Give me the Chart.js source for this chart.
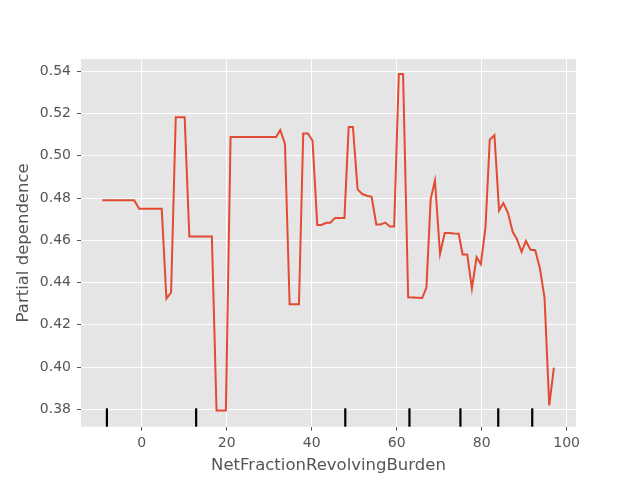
<!DOCTYPE html>
<html>
<head>
<meta charset="utf-8">
<script src="https://cdn.jsdelivr.net/npm/chart.js@4"></script>
<style>
  body { margin: 0; background: #fff; }
  #wrap { width: 640px; height: 480px; }
</style>
</head>
<body>
<div id="wrap"><canvas id="pdp" width="640" height="480"></canvas></div>
<script>
// partial dependence curve
var xs = [-9.3, -1.8, -0.6, 4.7, 5.8, 6.9, 8.0, 10.1, 11.2, 16.5,
  17.6, 19.8, 20.9, 31.6, 32.6, 33.7, 34.8, 37.0, 38.0, 39.1,
  40.2, 41.3, 42.3, 43.4, 44.4, 45.5, 47.7, 48.7, 49.7, 50.8,
  51.9, 53.0, 54.1, 55.2, 56.2, 57.3, 58.4, 59.4, 60.5, 61.5,
  62.7, 66.0, 67.0, 68.0, 69.0, 70.2, 71.3, 72.4, 73.5, 74.6,
  75.5, 76.6, 77.7, 78.8, 79.8, 80.9, 81.9, 83.0, 84.1, 85.1,
  86.2, 87.3, 88.3, 89.4, 90.4, 91.5, 92.6, 93.7, 94.8, 95.9, 97.0];
var ys = [0.479, 0.479, 0.4749, 0.4749, 0.4324, 0.4353, 0.5182, 0.5182, 0.4618, 0.4618,
  0.3795, 0.3795, 0.5089, 0.5089, 0.5122, 0.5056, 0.4297, 0.4297, 0.5106, 0.5106,
  0.5071, 0.4673, 0.4673, 0.4683, 0.4683, 0.4706, 0.4706, 0.5136, 0.5136, 0.4841,
  0.4819, 0.4811, 0.4806, 0.4675, 0.4675, 0.4684, 0.4665, 0.4665, 0.5387, 0.5387,
  0.4330, 0.4327, 0.4376, 0.4795, 0.4883, 0.4536, 0.4635, 0.4635, 0.4632, 0.4631,
  0.4533, 0.4533, 0.4372, 0.4520, 0.4487, 0.4661, 0.5076, 0.5097, 0.4741, 0.4776,
  0.4729, 0.4640, 0.4605, 0.4545, 0.4597, 0.4555, 0.4553, 0.4468, 0.4326, 0.3819, 0.3997];
// decile rug marks
var deciles = [-8.2, 12.8, 47.9, 63.0, 75.0, 83.9, 91.9];
var xTicks = [0, 20, 40, 60, 80, 100];
var yTicks = [0.38, 0.40, 0.42, 0.44, 0.46, 0.48, 0.50, 0.52, 0.54];

var points = xs.map(function(x, i) { return {x: x, y: ys[i]}; });

var bgPlugin = {
  id: 'panelBg',
  beforeDraw: function(chart) {
    var c = chart.ctx, a = chart.chartArea;
    c.save();
    c.fillStyle = '#fff';
    c.fillRect(0, 0, chart.width, chart.height);
    c.fillStyle = '#E5E5E5';
    c.fillRect(a.left, a.top, a.right - a.left, a.bottom - a.top);
    c.restore();
  }
};

var rugPlugin = {
  id: 'rug',
  afterDatasetsDraw: function(chart) {
    var c = chart.ctx, a = chart.chartArea, sx = chart.scales.x;
    var h = (a.bottom - a.top) * 0.05;
    c.save();
    c.strokeStyle = '#000';
    c.lineWidth = 2.2;
    deciles.forEach(function(d) {
      var px = sx.getPixelForValue(d);
      c.beginPath();
      c.moveTo(px, a.bottom);
      c.lineTo(px, a.bottom - h);
      c.stroke();
    });
    c.restore();
  }
};

var tickFont = {family: 'DejaVu Sans', size: 14};
var titleFont = {family: 'DejaVu Sans', size: 16.5};

new Chart(document.getElementById('pdp'), {
  type: 'line',
  data: {
    datasets: [{
      data: points,
      borderColor: '#E24A33',
      borderWidth: 2,
      pointRadius: 0,
      tension: 0,
      fill: false
    }]
  },
  options: {
    responsive: false,
    animation: false,
    devicePixelRatio: 1,
    layout: {padding: {left: 0, top: 59, right: 64, bottom: 0}},
    plugins: {legend: {display: false}, tooltip: {enabled: false}},
    scales: {
      x: {
        type: 'linear',
        min: -14.3,
        max: 102.2,
        afterBuildTicks: function(s) { s.ticks = xTicks.map(function(v) { return {value: v}; }); },
        afterFit: function(s) { s.height = 53.3; },
        grid: {color: '#fff', lineWidth: 1, tickColor: '#555', tickLength: 4},
        border: {display: false},
        ticks: {color: '#555', font: tickFont, padding: 4, maxRotation: 0},
        title: {display: true, text: 'NetFractionRevolvingBurden', color: '#555', font: titleFont, padding: {top: 0, bottom: 4}}
      },
      y: {
        min: 0.3718,
        max: 0.5458,
        afterBuildTicks: function(s) { s.ticks = yTicks.map(function(v) { return {value: v}; }); },
        afterFit: function(s) { s.width = 81; },
        grid: {color: '#fff', lineWidth: 1, tickColor: '#555', tickLength: 4},
        border: {display: false},
        ticks: {color: '#555', font: tickFont, padding: 6, callback: function(v) { return v.toFixed(2); }},
        title: {display: true, text: 'Partial dependence', color: '#555', font: titleFont, padding: {top: 14, bottom: 0}}
      }
    }
  },
  plugins: [bgPlugin, rugPlugin]
});
</script>
</body>
</html>
